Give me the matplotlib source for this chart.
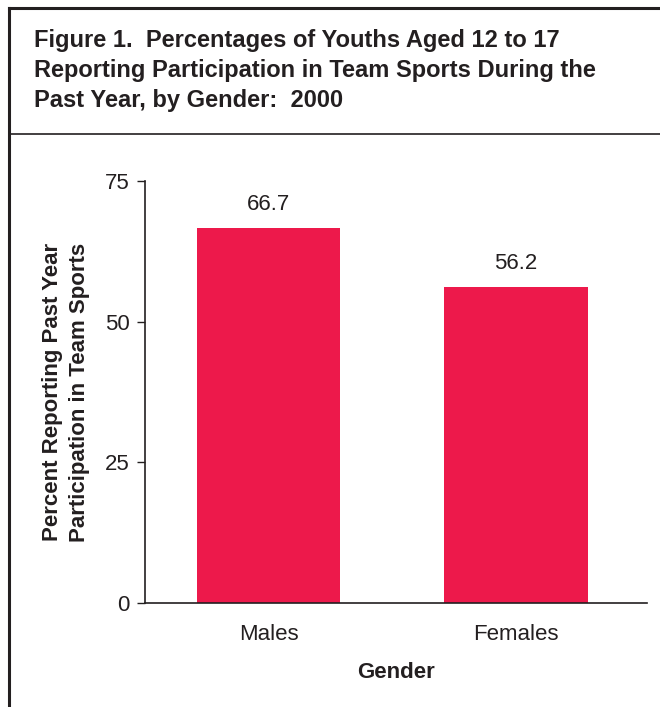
import matplotlib
matplotlib.use("Agg")
import matplotlib.pyplot as plt
from matplotlib.lines import Line2D

plt.rcParams["font.family"] = ["Liberation Sans", "DejaVu Sans"]

# Data
genders = ["Males", "Females"]
percents = [66.7, 56.2]
value_labels = ["66.7", "56.2"]
y_ticks = [0, 25, 50, 75]

title_lines = [
    "Figure 1.  Percentages of Youths Aged 12 to 17",
    "Reporting Participation in Team Sports During the",
    "Past Year, by Gender:  2000",
]

W, H = 660, 707
fig = plt.figure(figsize=(W / 100, H / 100), dpi=100)
fig.patch.set_facecolor("white")

def fx(px):
    return px / W

def fy(py):
    return 1 - py / H

ink = "#231f20"
# Outer frame: top and left edges plus the title separator
fig.add_artist(Line2D([fx(9), 1.0], [fy(8), fy(8)], color=ink, lw=2.2))
fig.add_artist(Line2D([fx(9), fx(9)], [fy(8), 0.0], color=ink, lw=2.2))
fig.add_artist(Line2D([fx(9), 1.0], [fy(134), fy(134)], color=ink, lw=1.2))

# Title block
for i, line in enumerate(title_lines):
    fig.text(fx(34), fy(41 + 30 * i), line, fontsize=17, fontweight="bold",
             color=ink, ha="left", va="center")

# Plot area
ax = fig.add_axes([fx(145), fy(603), fx(647 - 145), (603 - 181) / H])
x = list(range(len(genders)))
ax.bar(x, percents, width=0.58, color="#ED194B", zorder=2)

ax.set_xlim(-0.5, 1.53)
ax.set_ylim(0, 75)
ax.set_yticks(y_ticks)
ax.set_yticklabels([str(t) for t in y_ticks], fontsize=16, color=ink)
ax.set_xticks(x)
ax.set_xticklabels(genders, fontsize=16, color=ink)
ax.tick_params(axis="y", direction="out", length=6, width=1, color=ink, pad=5)
ax.tick_params(axis="x", length=0, pad=15)

for side in ("top", "right"):
    ax.spines[side].set_visible(False)
for side in ("left", "bottom"):
    ax.spines[side].set_color(ink)
    ax.spines[side].set_linewidth(1.2)

for xi, v, lab in zip(x, percents, value_labels):
    ax.annotate(lab, (xi, v), xytext=(0, 9), textcoords="offset points",
                ha="center", va="bottom", fontsize=16, color=ink)

ax.set_xlabel("Gender", fontsize=16, fontweight="bold", color=ink, labelpad=12)
ax.set_ylabel("Percent Reporting Past Year\nParticipation in Team Sports",
              fontsize=16, fontweight="bold", color=ink, labelpad=11,
              linespacing=1.38)

fig.savefig("out.png", dpi=100)
